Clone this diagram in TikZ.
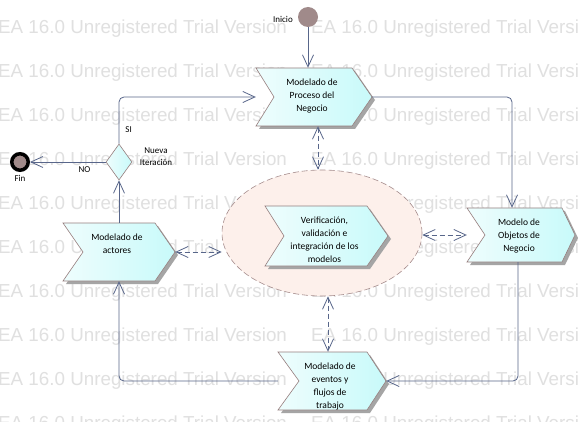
\documentclass[tikz,border=0pt]{standalone}
\usepackage{fontspec}
\setmainfont{Carlito}
\newfontfamily\wmfont{Liberation Sans}
\usetikzlibrary{arrows.meta,shapes.geometric}

\definecolor{edgec}{RGB}{88,102,138}
\definecolor{bord}{RGB}{150,126,126}
\definecolor{chl}{RGB}{238,253,253}
\definecolor{chr}{RGB}{200,250,250}
\definecolor{shad}{RGB}{165,165,165}
\definecolor{ellf}{RGB}{253,240,235}
\definecolor{ellb}{RGB}{165,140,140}
\definecolor{startc}{RGB}{160,138,138}
\definecolor{wm}{RGB}{224,224,224}

\tikzset{
  conn/.style={draw=edgec, line width=0.8pt, rounded corners=5pt,
    -{Straight Barb[length=12pt,width=11pt]}},
  dconn/.style={draw=edgec, line width=0.8pt, dash pattern=on 5pt off 3pt,
    {Straight Barb[length=12pt,width=11pt]}-{Straight Barb[length=12pt,width=11pt]}},
  lbl/.style={font=\fontsize{9}{12}\selectfont, inner sep=0pt, align=center},
  boxtxt/.style={font=\fontsize{9.5}{13}\selectfont, align=center, inner sep=0pt},
  wmtext/.style={font=\wmfont\fontsize{18.8}{20}\selectfont, text=wm, anchor=base west, inner sep=0pt},
}

% name, x1, y1, x2, y2, notch depth, tip depth, text
\newcommand\chev[8]{%
  \fill[shad] ({#2+3},{#3+3}) -- ({#4-#7+3},{#3+3}) -- ({#4+3},{(#3+#5)/2+3})
    -- ({#4-#7+3},{#5+3}) -- ({#2+3},{#5+3}) -- ({#2+#6+3},{(#3+#5)/2+3}) -- cycle;
  \shadedraw[left color=chl,right color=chr,draw=bord,line width=0.6pt]
    (#2,#3) -- ({#4-#7},#3) -- (#4,{(#3+#5)/2}) -- ({#4-#7},#5) -- (#2,#5)
    -- ({#2+#6},{(#3+#5)/2}) -- cycle;
  \node[inner sep=0pt,minimum width={#4-#2},minimum height={#5-#3}] (#1) at ({(#2+#4)/2},{(#3+#5)/2}) {};
  \node[boxtxt,anchor=north] (#1t) at ({(#2+#4)/2-2},{#3+11}) {#8};
}

\begin{document}
\begin{tikzpicture}[x=1pt,y=-1pt]
\useasboundingbox (0,0) rectangle (578,422);
\fill[white] (0,0) rectangle (578,422);

% watermark
\begin{scope}
\clip (0,0) rectangle (578,422);
\foreach \i in {0,...,9} {
  \node[wmtext] (wmL\i) at (-2,{34+43.9*\i}) {EA 16.0 Unregistered Trial Version};
  \node[wmtext] (wmR\i) at (311,{34+43.9*\i}) {EA 16.0 Unregistered Trial Version};
}
\end{scope}

% ellipse
\node[ellipse, draw=ellb, line width=0.6pt, dash pattern=on 6pt off 3pt, fill=ellf,
      minimum width=200, minimum height=126, inner sep=0pt] (EL) at (322,233) {};

% chevrons
\chev{P}{256}{68}{372}{126}{18}{20}{Modelado de\\Proceso del\\Negocio}
\chev{A}{63}{223}{175}{281}{20}{20}{Modelado de\\actores}
\chev{O}{467}{208}{575}{262}{18}{13}{Modelo de\\Objetos de\\Negocio}
\chev{E}{278}{352}{386}{410}{21}{19}{Modelado de\\eventos y\\flujos de\\trabajo}
\chev{V}{265}{206}{388}{266}{19}{21}{Verificación,\\validación e\\integración de los\\modelos}

% start, end, decision
\node[circle, fill=startc, minimum size=20, inner sep=0pt] (S) at (308,17) {};
\node[circle, draw=black, line width=3.5pt, fill=startc, minimum size=16.5, inner sep=0pt] (F) at (20,162) {};
\node[diamond, draw=bord, line width=0.6pt, left color=chl, right color=chr,
      minimum width=26, minimum height=36, inner sep=0pt] (D) at (119,162) {};

% labels
\node[lbl, anchor=east] (lInicio) at (293,19) {Inicio};
\node[lbl] (lFin) at (20,178) {Fin};
\node[lbl] (lNueva) at (156,157) {Nueva\\Iteración};

% connectors
\draw[conn] (S.south) -- (S.south |- P.north);
\draw[conn] (P.east) -| ([xshift=-9pt]O.north);
\draw[conn] ([xshift=-3pt]O.south) |- (E.east);
\draw[conn] (E.west) -| (A.south);
\draw[conn] (A.north) -- (D.south);
\draw[conn] (D.west) -- (F.east) node[lbl, pos=0.28, below=4pt] (lNO) {NO};
\draw[conn] (D.north) |- (P.west) node[lbl, pos=0.15, right=6pt] (lSI) {SI};

% dashed bidirectional
\draw[dconn] ([xshift=4pt]P.south) -- ([xshift=4pt]P.south |- EL.north);
\draw[dconn] ([xshift=-4pt]E.north |- EL.south) -- ([xshift=-4pt]E.north);
\draw[dconn] (A.east) -- (EL.west |- A.east);
\draw[dconn] (EL.east |- O.west) -- (O.west);
\end{tikzpicture}
\end{document}
